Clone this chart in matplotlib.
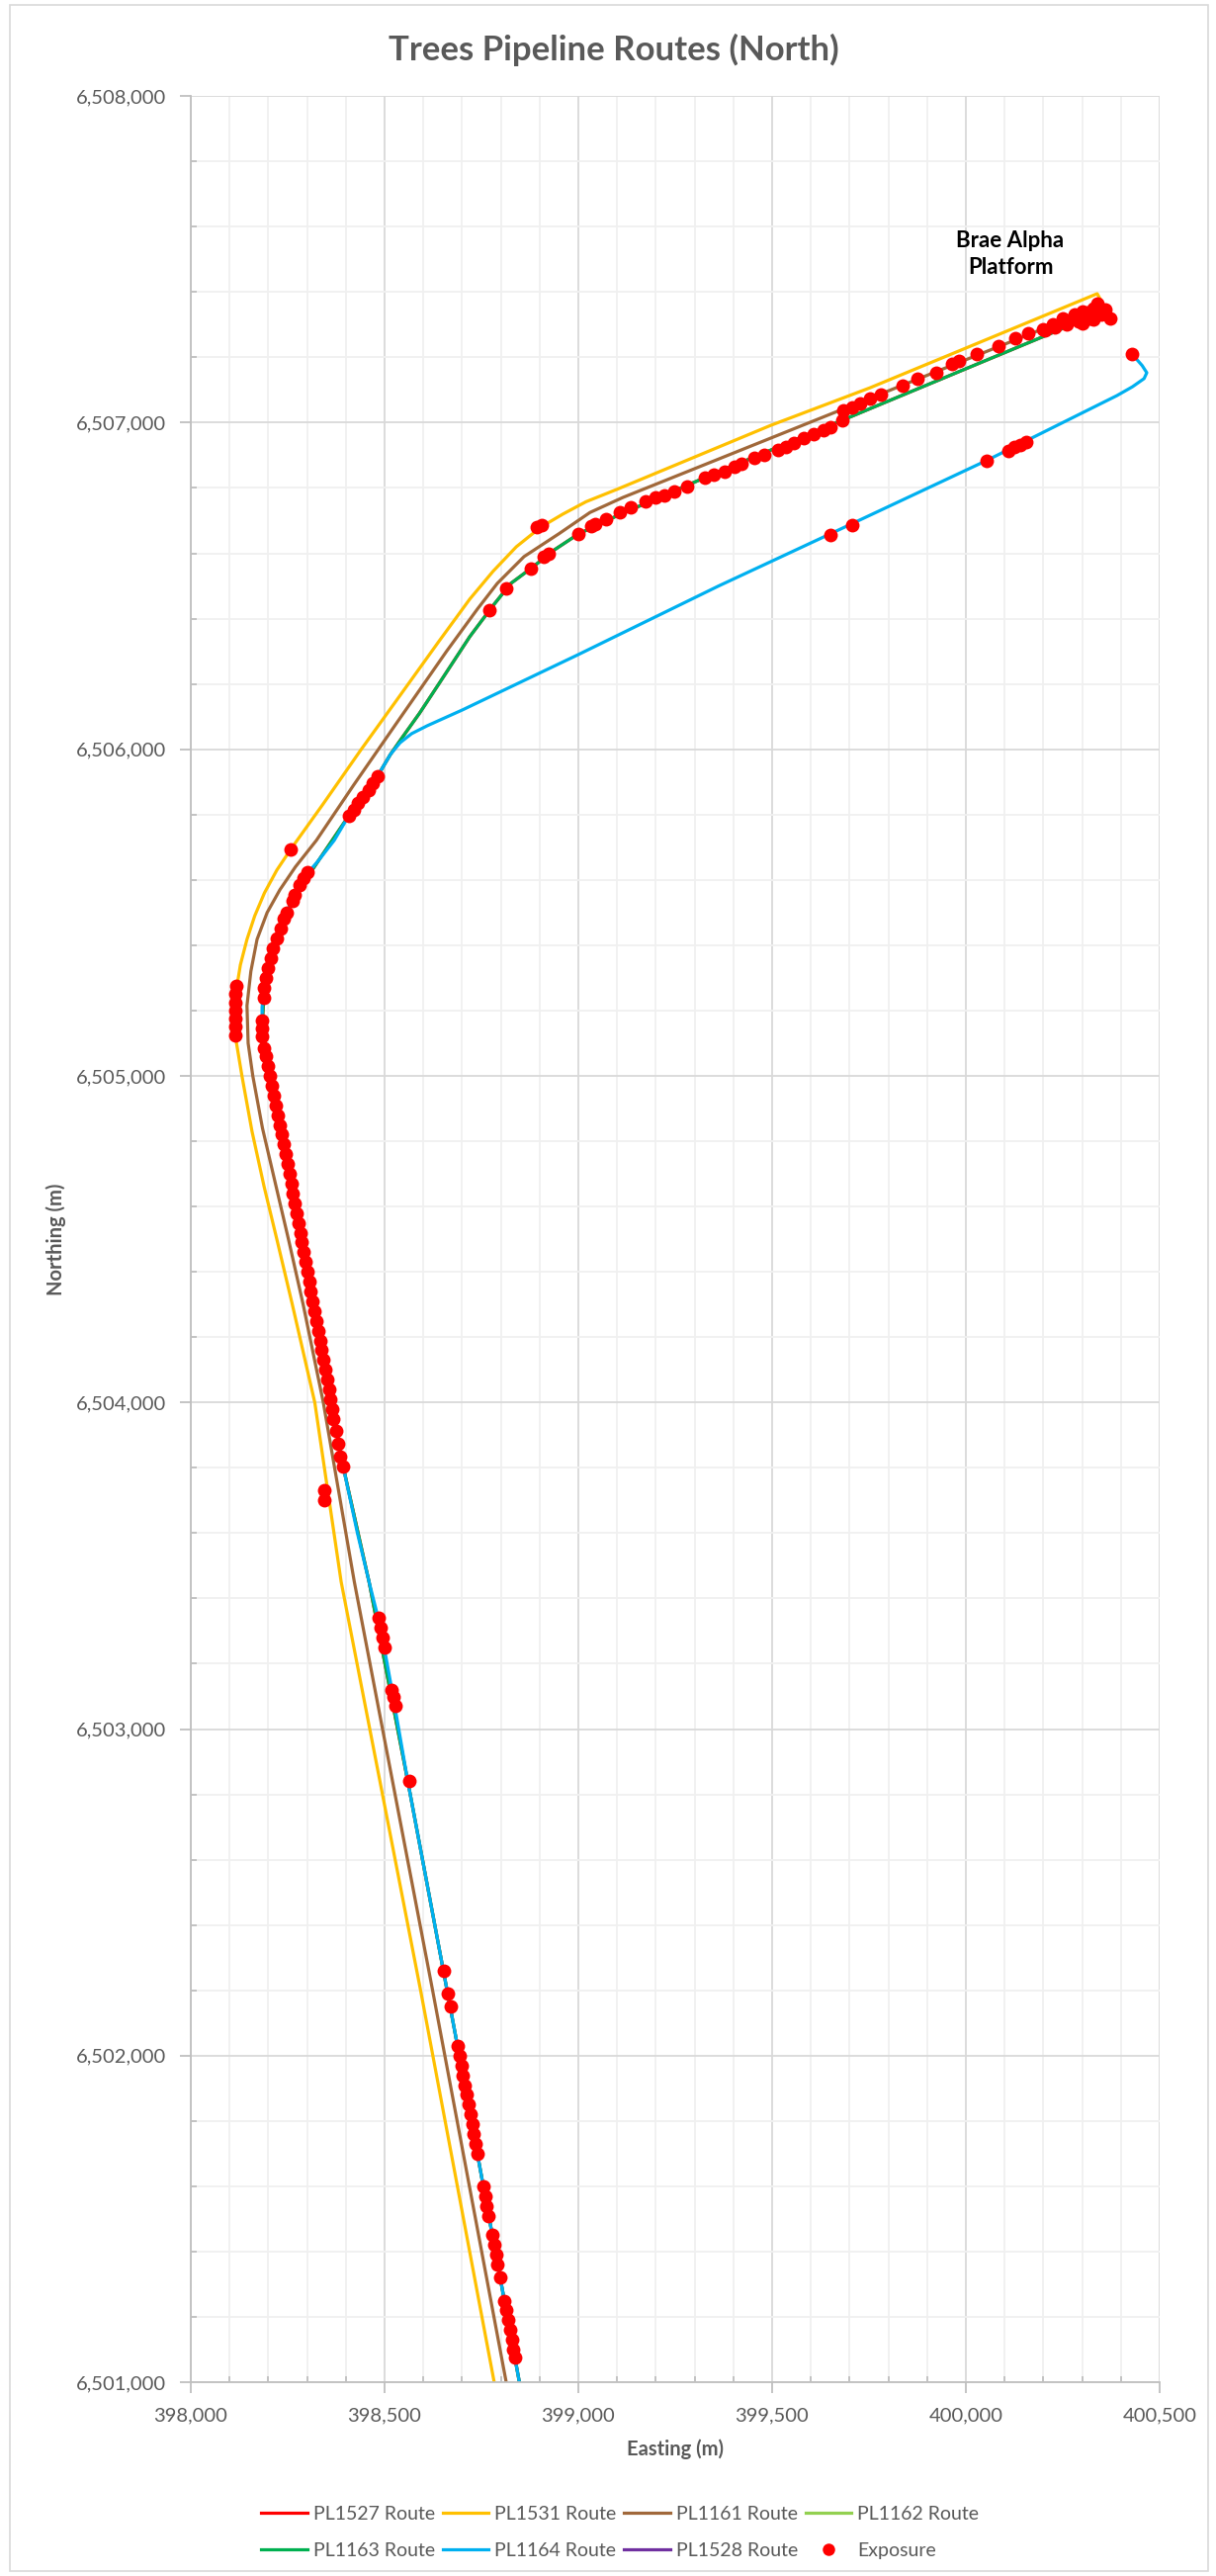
import numpy as np
import matplotlib
matplotlib.use("Agg")
import matplotlib.pyplot as plt
from matplotlib.ticker import MultipleLocator, FuncFormatter
from matplotlib.lines import Line2D
from matplotlib.patches import Rectangle

plt.rcParams['font.family'] = ['Lato', 'DejaVu Sans']

# route coordinates (easting, northing)
pl1531_e = [398783, 398593, 398388, 398320, 398262, 398222, 398189, 398158, 398132, 398118,
            398114, 398117, 398128, 398145, 398165, 398190, 398222, 398258, 398340, 398440,
            398528, 398640, 398720, 398780, 398840, 398903, 398960, 399020, 399100, 399497,
            399753, 400339, 400372]
pl1531_n = [6501000, 6502200, 6503451, 6504000, 6504300, 6504500, 6504662, 6504830, 6505000, 6505100,
            6505180, 6505260, 6505340, 6505418, 6505490, 6505560, 6505630, 6505694, 6505830, 6506000,
            6506145, 6506330, 6506460, 6506545, 6506620, 6506680, 6506720, 6506758, 6506796, 6506992,
            6507107, 6507395, 6507325]

pl1161_e = [398814, 398624, 398422, 398342, 398290, 398252, 398220, 398185, 398160, 398148,
            398145, 398155, 398171, 398197, 398230, 398270, 398324, 398420, 398528, 398660,
            398740, 398791, 398860, 398950, 399030, 399115, 399497, 400320]
pl1161_n = [6501000, 6502200, 6503451, 6504000, 6504300, 6504500, 6504662, 6504840, 6505000, 6505100,
            6505215, 6505320, 6505418, 6505500, 6505570, 6505640, 6505721, 6505890, 6506075, 6506300,
            6506430, 6506508, 6506590, 6506660, 6506725, 6506771, 6506953, 6507345]

pl1164_e = [398848, 398693, 398560, 398522, 398490, 398460, 398430, 398393, 398364, 398310,
            398260, 398225, 398204, 398190, 398184, 398184, 398190, 398204, 398222, 398247,
            398265, 398290, 398330, 398370, 398408, 398445, 398482, 398515, 398540, 398570,
            398610, 398700, 399000, 399362, 399651, 400055, 400390, 400430, 400460, 400467,
            400455, 400429]
pl1164_n = [6501000, 6502000, 6502840, 6503100, 6503310, 6503451, 6503600, 6503805, 6504000, 6504340,
            6504662, 6504850, 6505000, 6505080, 6505150, 6505210, 6505280, 6505360, 6505420, 6505500,
            6505545, 6505605, 6505660, 6505721, 6505797, 6505855, 6505918, 6505984, 6506020, 6506048,
            6506072, 6506120, 6506290, 6506500, 6506660, 6506885, 6507083, 6507110, 6507135, 6507153,
            6507175, 6507210]

# PL1163 shares the PL1164 corridor in the south, then splits off north-east
pl1163_e = [398848, 398693, 398560, 398460, 398393, 398364, 398260, 398204, 398184, 398190,
            398222, 398265, 398330, 398408, 398482, 398515, 398545, 398590, 398640, 398720,
            398780, 398826, 398877, 398940, 399000, 399100, 399327, 399753, 400245]
pl1163_n = [6501000, 6502000, 6502840, 6503451, 6503805, 6504000, 6504662, 6505000, 6505150, 6505280,
            6505420, 6505545, 6505660, 6505797, 6505918, 6505984, 6506035, 6506110, 6506200, 6506345,
            6506440, 6506508, 6506553, 6506612, 6506659, 6506715, 6506832, 6507043, 6507286]

pl1527_e = pl1163_e
pl1527_n = pl1163_n
pl1162_e, pl1162_n = [], []
pl1528_e, pl1528_n = [], []

exp_e = [398836, 398832, 398828, 398823, 398819, 398814, 398809,
         398798, 398792, 398788, 398783, 398778,
         398769, 398764, 398760, 398755,
         398740, 398735, 398730, 398726, 398721, 398716, 398712, 398707, 398702, 398698, 398693, 398688,
         398670, 398664, 398653, 398563, 398527, 398522, 398519,
         398499, 398494, 398490, 398485,
         398345, 398345,
         398392, 398386, 398380, 398374, 398368,
         398365, 398360, 398356, 398351, 398347, 398342, 398337, 398333, 398328, 398323,
         398319, 398314, 398310, 398305, 398300, 398296, 398291, 398287, 398282, 398277,
         398273, 398268, 398263, 398259, 398254, 398249, 398244, 398239, 398234, 398229,
         398224, 398219, 398214, 398209, 398204, 398199, 398194, 398190,
         398184, 398184, 398184,
         398188, 398190, 398194, 398200, 398206, 398213, 398222, 398231, 398240, 398247,
         398262, 398268, 398280, 398290, 398300,
         398408, 398420, 398432, 398445, 398458, 398470, 398482,
         398115, 398114, 398114, 398114, 398115, 398116, 398118,
         398258,
         398770, 398815, 398877, 398911, 398923, 398893, 398906,
         399000, 399033, 399043, 399071, 399107, 399135, 399173, 399199, 399222, 399247,
         399281, 399327, 399349, 399378, 399403, 399421, 399454, 399480, 399515, 399536,
         399556, 399582, 399607, 399633, 399651, 399681, 399684, 399707, 399727, 399753,
         399780, 399837, 399875, 399923, 399964, 399982, 400028, 400084, 400127, 400161,
         400200, 400230, 400260, 400290, 400320, 400350, 400372, 400300, 400330, 400340,
         400250, 400280, 400225, 400275, 400315, 400360, 400300, 400330, 400205,
         399651, 399707, 400055, 400110, 400125, 400140, 400155, 400429]
exp_n = [6501075, 6501100, 6501130, 6501160, 6501190, 6501220, 6501250,
         6501320, 6501360, 6501390, 6501420, 6501450,
         6501510, 6501540, 6501570, 6501600,
         6501700, 6501730, 6501760, 6501790, 6501820, 6501850, 6501880, 6501910, 6501940, 6501970, 6502000, 6502030,
         6502150, 6502190, 6502260, 6502840, 6503070, 6503100, 6503120,
         6503250, 6503280, 6503310, 6503340,
         6503700, 6503730,
         6503805, 6503835, 6503875, 6503914, 6503950,
         6503980, 6504010, 6504040, 6504070, 6504100, 6504130, 6504160, 6504190, 6504220, 6504250,
         6504280, 6504310, 6504340, 6504370, 6504400, 6504430, 6504460, 6504490, 6504520, 6504550,
         6504580, 6504610, 6504640, 6504670, 6504700, 6504730, 6504760, 6504790, 6504820, 6504850,
         6504880, 6504910, 6504940, 6504970, 6505000, 6505030, 6505060, 6505085,
         6505120, 6505145, 6505170,
         6505240, 6505270, 6505300, 6505330, 6505360, 6505390, 6505420, 6505450, 6505480, 6505500,
         6505535, 6505555, 6505585, 6505605, 6505625,
         6505797, 6505815, 6505835, 6505855, 6505875, 6505897, 6505918,
         6505125, 6505150, 6505175, 6505200, 6505225, 6505250, 6505275,
         6505694,
         6506425, 6506492, 6506553, 6506590, 6506599, 6506680, 6506685,
         6506659, 6506683, 6506689, 6506705, 6506726, 6506741, 6506759, 6506771, 6506777, 6506789,
         6506804, 6506832, 6506841, 6506850, 6506865, 6506874, 6506892, 6506901, 6506916, 6506925,
         6506937, 6506953, 6506965, 6506977, 6506986, 6507007, 6507037, 6507047, 6507059, 6507074,
         6507085, 6507113, 6507134, 6507153, 6507180, 6507189, 6507210, 6507234, 6507259, 6507274,
         6507285, 6507292, 6507300, 6507310, 6507320, 6507330, 6507320, 6507340, 6507350, 6507365,
         6507320, 6507330, 6507300, 6507318, 6507338, 6507345, 6507305, 6507315, 6507282,
         6506655, 6506685, 6506882, 6506915, 6506925, 6506933, 6506942, 6507210]

grey = '#595959'

fig = plt.figure(figsize=(12.3, 26.05), dpi=100)
fig.patches.append(Rectangle((10/1230, 5/2605), 1212/1230, 2595/2605, transform=fig.transFigure,
                             fill=False, ec='#D9D9D9', lw=1.2))
ax = fig.add_axes([0.1569, 0.0752, 0.7967, 0.8875])

lw = 2.3
l1, = ax.plot(pl1527_e, pl1527_n, color='#FF0000', lw=lw)
l2, = ax.plot(pl1531_e, pl1531_n, color='#FFC000', lw=lw)
l3, = ax.plot(pl1161_e, pl1161_n, color='#A0683A', lw=lw)
l4, = ax.plot(pl1162_e, pl1162_n, color='#92D050', lw=lw)
l5, = ax.plot(pl1163_e, pl1163_n, color='#00B050', lw=lw)
l6, = ax.plot(pl1164_e, pl1164_n, color='#00B0F0', lw=lw)
l7, = ax.plot(pl1528_e, pl1528_n, color='#7030A0', lw=lw)
l8, = ax.plot(exp_e, exp_n, 'o', color='#FF0000', ms=10, mec='none', ls='none')

ax.text(400115, 6507516, "Brae Alpha\nPlatform", ha='center', va='center', fontsize=16,
        fontweight='bold', color='black', linespacing=1.35)

ax.set_xlim(398000, 400500)
ax.set_ylim(6501000, 6508000)
ax.xaxis.set_major_locator(MultipleLocator(500))
ax.xaxis.set_minor_locator(MultipleLocator(100))
ax.yaxis.set_major_locator(MultipleLocator(1000))
ax.yaxis.set_minor_locator(MultipleLocator(200))
fmt = FuncFormatter(lambda v, p: f"{v:,.0f}")
ax.xaxis.set_major_formatter(fmt)
ax.yaxis.set_major_formatter(fmt)

ax.grid(which='major', color='#D9D9D9', lw=1.3)
ax.grid(which='minor', color='#F0F0F0', lw=1.3)
ax.set_axisbelow(True)
for s in ['top', 'right']:
    ax.spines[s].set_visible(False)
for s in ['left', 'bottom']:
    ax.spines[s].set_color('#BFBFBF')
    ax.spines[s].set_linewidth(1.3)
ax.tick_params(which='major', direction='out', length=8, width=1.3, color='#BFBFBF',
               labelsize=14.5, labelcolor=grey, pad=10)
ax.tick_params(which='minor', direction='in', length=4, width=1.3, color='#BFBFBF')

fig.text(0.505, 1 - 50/2605, "Trees Pipeline Routes (North)", ha='center', va='center',
         fontsize=25, fontweight='bold', color=grey)
fig.text(57/1230, 1 - 1253/2605, "Northing (m)", ha='center', va='center', rotation=90,
         fontsize=14.5, fontweight='bold', color=grey)
fig.text(683/1230, 1 - 2477/2605, "Easting (m)", ha='center', va='center',
         fontsize=14.5, fontweight='bold', color=grey)

handles = [l1, l5, l2, l6, l3, l7, l4, Line2D([], [], ls='none', marker='o', color='#FF0000', ms=9, mec='none')]
labels = ['PL1527 Route', 'PL1163 Route', 'PL1531 Route', 'PL1164 Route',
          'PL1161 Route', 'PL1528 Route', 'PL1162 Route', 'Exposure']
leg = fig.legend(handles, labels, loc='center', bbox_to_anchor=(0.51, 1 - 2561/2605), ncol=4,
                 frameon=False, fontsize=14, handlelength=2.4, handletextpad=0.3,
                 columnspacing=0.4, labelspacing=1.0)
for t in leg.get_texts():
    t.set_color(grey)

fig.savefig("out.png", dpi=100)
